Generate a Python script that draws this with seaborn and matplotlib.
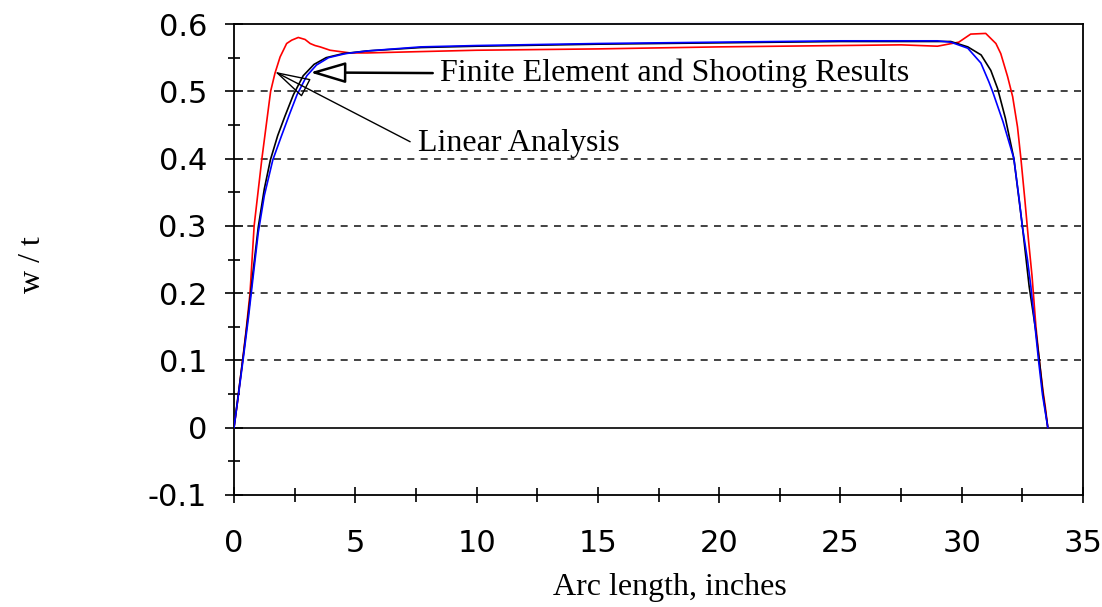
import matplotlib
matplotlib.use("Agg")
import matplotlib.pyplot as plt
import matplotlib.ticker as mticker
import numpy as np
import pandas as pd
import seaborn as sns

# Deflection profiles w/t along the arc length (inches)
fe_x = [0, 0.2, 0.4, 0.6, 0.8, 1.0, 1.25, 1.6, 1.95, 2.3, 2.6, 3.0, 3.4, 3.9, 4.6,
        5.5, 7.7, 10, 15, 20, 25, 27.5, 29.0, 29.55, 30.25, 30.79, 31.12, 31.27,
        31.7, 32.15, 32.37, 32.5, 32.71, 32.85, 33.03, 33.17, 33.33, 33.55]
fe_y = [0, 0.053, 0.108, 0.165, 0.228, 0.29, 0.345, 0.398, 0.433, 0.467, 0.495,
        0.523, 0.539, 0.55, 0.556, 0.56, 0.566, 0.568, 0.571, 0.573, 0.575, 0.575,
        0.575, 0.573, 0.564, 0.542, 0.514, 0.5, 0.455, 0.4, 0.339, 0.299, 0.25,
        0.21, 0.148, 0.099, 0.049, 0]

shoot_x = [0, 0.2, 0.4, 0.6, 0.8, 1.0, 1.25, 1.5, 1.8, 2.1, 2.45, 2.85, 3.3, 3.8,
           4.5, 5.5, 7.7, 10, 15, 20, 25, 27.5, 29.0, 29.55, 30.25, 30.8, 31.2,
           31.48, 31.8, 32.15, 32.5, 32.78, 33.05, 33.2, 33.35, 33.55]
shoot_y = [0, 0.056, 0.112, 0.172, 0.236, 0.298, 0.355, 0.398, 0.434, 0.463,
           0.495, 0.523, 0.54, 0.55, 0.556, 0.56, 0.565, 0.567, 0.57, 0.572,
           0.574, 0.574, 0.574, 0.574, 0.566, 0.554, 0.531, 0.504, 0.46, 0.4,
           0.3, 0.21, 0.145, 0.1, 0.05, 0]

linear_x = [0, 0.15, 0.37, 0.5, 0.66, 0.83, 1.15, 1.51, 1.69, 1.9, 2.17, 2.38,
            2.65, 2.93, 3.14, 3.34, 3.55, 3.96, 4.37, 4.79, 5.5, 7.7, 10, 15, 20,
            25, 27.5, 29.0, 29.88, 30.37, 30.99, 31.41, 31.61, 31.89, 32.1, 32.3,
            32.44, 32.6, 32.75, 32.9, 33.06, 33.2, 33.35, 33.45, 33.55]
linear_y = [0, 0.04, 0.105, 0.145, 0.2, 0.3, 0.4, 0.5, 0.527, 0.551, 0.571, 0.576,
            0.58, 0.577, 0.571, 0.568, 0.566, 0.561, 0.559, 0.557, 0.557, 0.559,
            0.561, 0.563, 0.566, 0.568, 0.569, 0.567, 0.573, 0.585, 0.586, 0.571,
            0.556, 0.522, 0.492, 0.447, 0.4, 0.34, 0.28, 0.225, 0.15, 0.1, 0.055,
            0.03, 0]

x_ticks = [0, 5, 10, 15, 20, 25, 30, 35]
y_ticks = [-0.1, 0, 0.1, 0.2, 0.3, 0.4, 0.5, 0.6]
grid_levels = [0.1, 0.2, 0.3, 0.4, 0.5]

df = pd.concat([
    pd.DataFrame({"s": linear_x, "w": linear_y, "curve": "Linear"}),
    pd.DataFrame({"s": shoot_x, "w": shoot_y, "curve": "Shooting"}),
    pd.DataFrame({"s": fe_x, "w": fe_y, "curve": "Finite Element"}),
], ignore_index=True)

sns.set_style("white")
plt.rcParams["axes.unicode_minus"] = False
plt.rcParams["font.family"] = ["DejaVu Sans"]
plt.rcParams["text.color"] = "black"
plt.rcParams["xtick.color"] = "black"
plt.rcParams["ytick.color"] = "black"
plt.rcParams["axes.labelcolor"] = "black"

fig = plt.figure(figsize=(11.02, 6.07), dpi=100)
ax = fig.add_axes([234 / 1102, 1 - 495 / 607, (1083 - 234) / 1102, (495 - 24) / 607])

for lvl in grid_levels:
    ax.axhline(lvl, color="#222222", lw=1.2, ls=(0, (4.2, 3.8)), zorder=1)
ax.axhline(0, color="black", lw=1.2, zorder=1)

sns.lineplot(data=df, x="s", y="w", hue="curve", sort=False, estimator=None,
             palette={"Linear": "#ff0000", "Shooting": "#000000",
                      "Finite Element": "#0000ff"},
             lw=1.2, legend=False, ax=ax, zorder=3)

ax.set_xlim(0, 35)
ax.set_ylim(-0.1, 0.6)
ax.set_xticks(x_ticks)
ax.set_yticks(y_ticks)
ax.xaxis.set_minor_locator(mticker.MultipleLocator(2.5))
ax.yaxis.set_minor_locator(mticker.MultipleLocator(0.05))
ax.xaxis.set_major_formatter(mticker.FuncFormatter(lambda v, p: f"{v:g}"))
ax.yaxis.set_major_formatter(mticker.FuncFormatter(lambda v, p: f"{v:g}"))

for sp in ax.spines.values():
    sp.set_color("black")
    sp.set_linewidth(1.3)

ax.tick_params(axis="y", which="major", direction="inout", length=13, width=1.2,
               labelsize=22, pad=13, color="black", labelcolor="black", left=True)
ax.tick_params(axis="y", which="minor", direction="inout", length=8, width=1.2,
               color="black", left=True)
ax.tick_params(axis="x", which="major", direction="inout", length=11, width=1.2,
               labelsize=22, pad=19, color="black", labelcolor="black", bottom=True)
ax.tick_params(axis="x", which="minor", direction="inout", length=10, width=1.2,
               color="black", bottom=True)

serif = ["Liberation Serif", "DejaVu Serif"]
ax.set_xlabel("Arc length, inches", family=serif, fontsize=23, color="black")
ax.set_ylabel("w / t", family=serif, fontsize=23, color="black")
ax.xaxis.set_label_coords(0.5135, -0.165)
ax.yaxis.set_label_coords(-0.22, 0.49)

ax.annotate("Finite Element and Shooting Results", xy=(3.14, 0.528),
            xytext=(8.5, 0.527), textcoords="data", family=serif, fontsize=23,
            va="center", ha="left", color="black",
            arrowprops=dict(arrowstyle="-|>,head_length=2.2,head_width=0.65",
                            fc="white", ec="black", lw=1.8, shrinkA=3, shrinkB=0,
                            mutation_scale=10, relpos=(0, 0.5)),
            zorder=5)
ax.annotate("Linear Analysis", xy=(1.69, 0.529),
            xytext=(7.6, 0.423), textcoords="data", family=serif, fontsize=23,
            va="center", ha="left", color="black",
            arrowprops=dict(arrowstyle="-|>,head_length=2.3,head_width=0.65",
                            fc="none", ec="black", lw=1.0, shrinkA=4, shrinkB=0,
                            mutation_scale=10, relpos=(0, 0.4)),
            zorder=5)

fig.savefig("out.png", dpi=100)
